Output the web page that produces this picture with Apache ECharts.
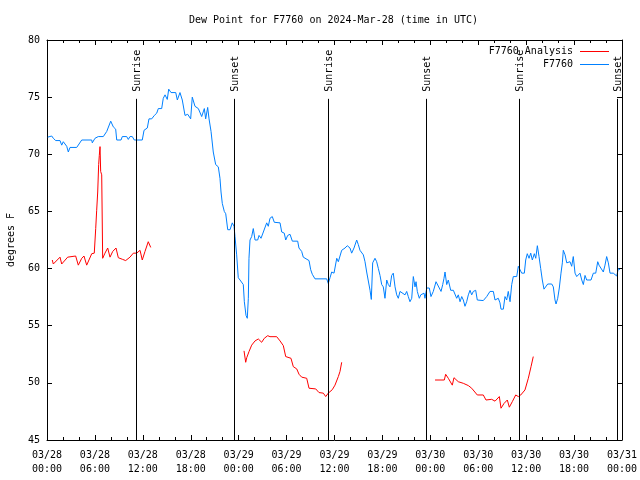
<!DOCTYPE html>
<html>
<head>
<meta charset="utf-8">
<script src="https://cdn.jsdelivr.net/npm/echarts@6/dist/echarts.min.js"></script>
<style>html,body{margin:0;padding:0;background:#fff}#c{width:640px;height:480px}</style>
</head>
<body>
<div id="c"></div>
<script>
// hours since 2024-03-28 00:00 UTC
const dewHours = [0.09,0.59,0.79,1.09,1.63,1.84,2.04,2.47,2.67,2.88,3.72,4.35,5.60,5.67,6.01,6.42,7.05,7.48,7.98,8.30,8.60,8.73,9.27,9.43,9.98,10.18,10.39,10.68,10.93,11.93,12.15,12.56,12.77,13.11,13.44,13.74,13.94,14.36,14.56,14.78,15.06,15.24,15.53,16.12,16.32,16.65,16.94,17.28,17.62,17.99,18.19,18.44,18.53,18.95,19.37,19.70,19.87,20.12,20.29,20.54,20.82,21.12,21.45,21.66,21.79,21.95,22.20,22.38,22.63,22.92,23.20,23.42,23.54,23.75,23.95,24.17,24.38,24.58,24.71,24.92,25.08,25.21,25.29,25.42,25.63,25.83,26.05,26.38,26.55,26.80,27.09,27.51,27.71,27.92,28.21,28.46,29.18,29.39,29.71,29.89,30.14,30.43,30.72,31.39,31.55,31.89,32.09,32.31,32.81,33.02,33.22,33.56,35.02,35.22,35.44,35.65,35.94,36.28,36.48,36.90,37.32,37.60,37.94,38.15,38.44,38.78,38.98,39.19,39.41,39.61,39.82,40.03,40.23,40.45,40.61,40.78,41.07,41.28,41.49,41.70,41.91,42.11,42.32,42.54,42.74,42.95,43.16,43.36,43.58,43.79,43.99,44.20,44.41,44.83,45.04,45.24,45.45,45.67,45.87,46.08,46.21,46.37,46.49,46.62,46.80,47.00,47.21,47.33,47.55,47.87,48.08,48.37,48.71,48.92,49.12,49.34,49.55,49.71,49.84,50.05,50.25,50.55,50.88,51.09,51.30,51.50,51.72,51.93,52.13,52.34,52.55,52.76,52.97,53.18,53.38,53.68,53.88,54.13,54.63,55.06,55.47,55.89,56.10,56.51,56.72,56.85,57.14,57.35,57.56,57.76,57.98,58.19,58.39,58.82,59.02,59.23,59.44,59.77,59.94,60.14,60.36,60.57,60.77,61.02,61.20,61.40,61.61,61.82,62.02,62.23,62.45,62.70,63.20,63.40,63.61,63.74,63.95,64.15,64.36,64.53,64.65,64.87,65.08,65.28,65.49,65.70,65.90,66.12,66.33,66.53,66.74,66.96,67.16,67.37,67.58,68.12,68.41,68.71,68.96,69.12,69.37,69.66,69.87,70.08,70.29,70.50,70.71,70.91,71.12,71.34,71.54,71.75];
const dewValues = [71.5,71.6,71.4,71.2,71.2,70.8,71.1,70.7,70.2,70.6,70.6,71.25,71.25,71.0,71.4,71.55,71.55,72.0,72.9,72.4,72.2,71.25,71.25,71.55,71.55,71.3,71.55,71.55,71.25,71.25,72.1,72.3,73.1,73.1,73.4,73.6,74.0,74.0,74.9,75.2,74.8,75.7,75.4,75.4,74.75,75.4,74.75,73.4,73.5,73.1,75.0,75.0,74.2,74.0,73.3,74.0,73.1,74.1,73.1,72.0,70.2,69.1,68.9,67.9,66.7,65.7,65.0,64.8,63.4,63.4,64.0,63.7,62.8,61.2,59.2,59.0,58.9,58.6,57.1,55.9,55.65,57.4,60.9,62.5,62.8,63.5,62.5,62.5,62.9,62.65,63.2,64.0,63.7,64.4,64.55,64.05,64.0,63.2,63.1,62.5,62.9,63.0,62.4,62.4,61.8,61.5,61.0,60.9,60.7,59.9,59.5,59.1,59.1,58.7,59.2,59.7,59.6,60.9,60.6,61.6,61.8,62.0,61.8,61.35,61.8,62.5,62.1,61.6,61.6,61.2,60.6,59.7,59.6,58.1,57.3,60.5,60.9,60.6,60.0,59.4,58.6,58.4,57.4,59.0,58.6,58.4,59.4,59.6,58.4,57.7,57.4,58.0,58.0,57.7,58.0,57.55,57.1,57.4,59.3,58.4,58.85,58.0,57.7,57.4,57.7,57.55,57.85,57.4,58.3,58.3,57.55,58.0,58.85,58.85,58.3,58.0,58.6,59.15,59.7,58.6,59.0,58.1,58.1,58.0,57.4,57.7,57.1,57.55,57.25,56.7,57.1,57.7,58.1,57.7,58.0,58.1,57.25,57.4,57.2,57.55,58.0,58.0,57.25,57.4,57.0,56.45,56.45,57.55,57.25,58.0,57.1,58.6,59.3,59.3,60.2,60.3,59.6,59.6,60.75,61.3,60.9,61.35,60.75,61.3,60.9,62.0,61.05,60.0,59.0,58.2,58.3,58.65,58.65,58.4,57.25,56.9,57.4,58.3,59.6,60.5,61.6,61.2,60.5,60.5,60.6,60.2,61.05,59.6,59.3,59.15,59.6,59.0,58.6,59.4,59.0,59.0,59.6,59.6,60.6,60.3,60.2,59.7,60.3,61.05,60.5,59.6,59.7,59.6,59.7,59.35,60.0,59.9];

const analysisHours = [0.66,0.79,1.63,1.84,2.59,3.59,3.92,4.35,4.63,4.97,5.60,5.92,6.10,6.22,6.35,6.47,6.55,6.64,6.72,6.85,6.97,7.26,7.60,7.89,8.23,8.64,8.93,9.48,9.85,10.39,10.81,11.23,11.65,11.93,12.27,12.68,12.99,
  18.0,
  24.67,24.88,25.01,25.29,25.63,26.05,26.46,26.67,26.88,27.21,27.64,27.92,28.76,29.18,29.59,29.89,30.55,30.84,31.27,31.56,31.89,32.52,32.81,33.65,34.06,34.60,34.90,35.22,35.72,36.06,36.48,36.69,36.90,
  42.0,
  48.59,49.75,49.92,50.25,50.75,50.96,51.50,52.13,52.76,53.18,53.88,54.63,54.97,55.68,56.10,56.64,56.85,57.23,57.64,57.89,58.27,58.69,59.02,59.32,59.85,60.27,60.61,60.89];
const analysisValues = [60.75,60.4,61.0,60.4,61.0,61.1,60.3,60.9,61.1,60.3,61.3,61.35,63.5,65.1,66.7,69.1,69.9,70.67,68.5,68.2,60.9,61.35,61.8,61.0,61.5,61.8,60.95,60.8,60.7,61.0,61.35,61.35,61.6,60.75,61.5,62.35,61.85,
  null,
  52.8,51.8,52.2,52.73,53.3,53.67,53.84,53.95,53.55,53.9,54.13,54.04,54.04,53.67,53.26,52.3,52.15,51.42,51.22,50.75,50.5,50.4,49.53,49.47,49.15,49.1,48.8,49.1,49.4,49.8,50.55,51.0,51.8,
  null,
  50.25,50.25,50.75,50.4,49.8,50.45,50.1,49.96,49.76,49.53,48.94,48.94,48.5,48.56,48.4,48.8,47.78,48.2,48.5,47.87,48.36,48.94,48.8,48.94,49.38,50.4,51.42,52.3];

const sunHours = [11.18, 23.45, 35.22, 47.50, 59.14, 71.41];
const sunLabels = ['Sunrise', 'Sunset', 'Sunrise', 'Sunset', 'Sunrise', 'Sunset'];
const xTickDates = ['03/28', '03/28', '03/28', '03/28', '03/29', '03/29', '03/29', '03/29', '03/30', '03/30', '03/30', '03/30', '03/31'];
const xTickTimes = ['00:00', '06:00', '12:00', '18:00'];

const FONT = 'DejaVu Sans Mono';
const chart = echarts.init(document.getElementById('c'), null, {renderer: 'canvas'});

const dewData = dewHours.map((h, i) => [h, dewValues[i]]);
const anaData = analysisHours.map((h, i) => [h, analysisValues[i] === null ? '-' : analysisValues[i]]);
const sunData = sunHours.map(h => [h, 45]);

const xCommon = {
  type: 'value', min: 0, max: 72, interval: 6,
  axisLine: {show: true, onZero: false, lineStyle: {color: '#000', width: 1}},
  axisTick: {show: true, inside: true, length: 5, lineStyle: {color: '#000'}},
  minorTick: {show: true, splitNumber: 3, length: 3, lineStyle: {color: '#000'}},
  splitLine: {show: false}
};
const yCommon = {
  type: 'value', min: 45, max: 80, interval: 5,
  axisLine: {show: true, onZero: false, lineStyle: {color: '#000', width: 1}},
  axisTick: {show: true, inside: true, length: 5, lineStyle: {color: '#000'}},
  splitLine: {show: false}
};

chart.setOption({
  animation: false,
  backgroundColor: '#fff',
  title: {
    text: 'Dew Point for F7760 on 2024-Mar-28 (time in UTC)',
    left: 184, top: 10,
    textStyle: {fontFamily: FONT, fontSize: 10, fontWeight: 'normal', color: '#000'}
  },
  grid: {left: 47, right: 18, top: 40, bottom: 40, containLabel: false, outerBoundsMode: 'none'},
  legend: {
    data: ['F7760 Analysis', 'F7760'],
    orient: 'vertical', right: 26, top: 40, align: 'right',
    itemWidth: 29, itemHeight: 1, itemGap: 0, icon: 'rect',
    textStyle: {fontFamily: FONT, fontSize: 10, color: '#000', lineHeight: 13, padding: [0, 2, 0, 0]}
  },
  xAxis: [
    Object.assign({}, xCommon, {
      position: 'bottom',
      axisLabel: {
        show: true, margin: 8, fontFamily: FONT, fontSize: 10, color: '#000', lineHeight: 14,
        formatter: v => { const i = Math.round(v / 6); return xTickDates[i] + '\n' + xTickTimes[i % 4]; }
      }
    }),
    Object.assign({}, xCommon, {position: 'top', axisLabel: {show: false}})
  ],
  yAxis: [
    Object.assign({}, yCommon, {
      position: 'left',
      name: 'degrees F', nameLocation: 'middle', nameGap: 31, nameRotate: 90,
      nameTextStyle: {fontFamily: FONT, fontSize: 10, color: '#000'},
      axisLabel: {show: true, margin: 7, fontFamily: FONT, fontSize: 10, color: '#000'}
    }),
    Object.assign({}, yCommon, {position: 'right', axisLabel: {show: false}})
  ],
  series: [
    {
      name: 'F7760 Analysis', type: 'line', data: anaData, showSymbol: false, symbol: 'none',
      connectNulls: false, color: '#ff0000', lineStyle: {color: '#ff0000', width: 1}, z: 3
    },
    {
      name: 'F7760', type: 'line', data: dewData, showSymbol: false, symbol: 'none',
      color: '#0080ff', lineStyle: {color: '#0080ff', width: 1}, z: 2
    },
    {
      name: 'sun', type: 'custom', data: sunData, z: 4, silent: true,
      renderItem: function (params, api) {
        const h = api.value(0);
        const p0 = api.coord([h, 45]);
        const p1 = api.coord([h, 74.85]);
        const x = Math.round(p0[0]) + 0.5;
        return {
          type: 'group',
          children: [
            {type: 'line', shape: {x1: x, y1: p0[1], x2: x, y2: p1[1]}, style: {stroke: '#000', lineWidth: 1}},
            {type: 'text', x: x + 0.5, y: p1[1] - 7, rotation: Math.PI / 2,
             style: {text: sunLabels[params.dataIndex], fill: '#000', font: '10px "' + FONT + '"', align: 'left', verticalAlign: 'middle'}}
          ]
        };
      }
    }
  ]
});
</script>
</body>
</html>
